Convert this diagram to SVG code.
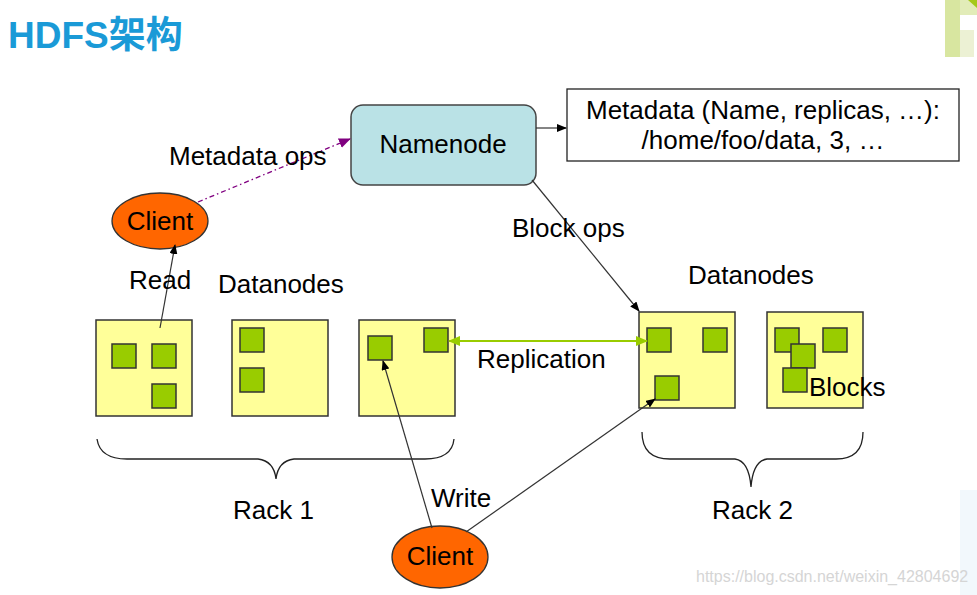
<svg xmlns="http://www.w3.org/2000/svg" width="977" height="595" viewBox="0 0 977 595">
<defs>
<style>
text{font-family:"Liberation Sans",Arial,"Noto Sans CJK SC",sans-serif;fill:#000;font-size:26px}
.title{font-weight:bold;font-size:37px;fill:#1a9ad7}
.box{fill:#ffff99;stroke:#333;stroke-width:1.5}
.blk{fill:#99cc00;stroke:#333;stroke-width:1.5}
.ln{stroke:#333;stroke-width:1.2;fill:none}
.brace{stroke:#222;stroke-width:1.3;fill:none}
.mid{text-anchor:middle}
</style>
<marker id="ab" markerWidth="10" markerHeight="8" refX="9" refY="4" orient="auto" markerUnits="userSpaceOnUse"><path d="M0,0 L10,4 L0,8 Z" fill="#000"/></marker>
<marker id="ap" markerWidth="12" markerHeight="10" refX="11" refY="5" orient="auto" markerUnits="userSpaceOnUse"><path d="M0,0 L12,5 L0,10 Z" fill="#800080"/></marker>
<marker id="ag" markerWidth="12" markerHeight="10" refX="11" refY="5" orient="auto-start-reverse" markerUnits="userSpaceOnUse"><path d="M0,0 L12,5 L0,10 Z" fill="#99cc00"/></marker>
</defs>
<rect width="977" height="595" fill="#fff"/>
<g id="decor">
<rect x="945" y="0" width="15" height="57" fill="#d8e6a0"/>
<rect x="960" y="0" width="17" height="15" fill="#e2ecb8"/>
<rect x="960" y="30" width="14" height="27" fill="#ecf1d4"/>
<path d="M968,0 L977,0 L977,8 Z" fill="#a5c81a"/>
<rect x="960" y="490" width="17" height="105" fill="#f2f8fc"/>
</g>
<text class="title" x="8" y="48">HDFS架构</text>
<g id="namenode">
<rect x="351" y="105" width="185" height="80" rx="12" fill="#bae2e6" stroke="#444" stroke-width="1.5"/>
<text class="mid" x="443" y="153">Namenode</text>
</g>
<g id="metadata">
<rect x="567" y="89" width="392" height="72" fill="#fff" stroke="#222" stroke-width="1.3"/>
<text class="mid" x="763" y="119">Metadata (Name, replicas, …):</text>
<text class="mid" x="763" y="149">/home/foo/data, 3, …</text>
</g>
<g id="client1">
<ellipse cx="160" cy="221" rx="48" ry="28" fill="#ff6600" stroke="#333" stroke-width="1.3"/>
<text class="mid" x="160" y="230">Client</text>
</g>
<g id="client2">
<ellipse cx="440" cy="557" rx="48" ry="31" fill="#ff6600" stroke="#333" stroke-width="1.3"/>
<text class="mid" x="440" y="565">Client</text>
</g>
<g id="rack1-dn1">
<rect class="box" x="96" y="320" width="96" height="96"/>
<rect class="blk" x="112" y="344" width="24" height="24"/>
<rect class="blk" x="152" y="344" width="24" height="24"/>
<rect class="blk" x="152" y="384" width="24" height="24"/>
</g>
<g id="rack1-dn2">
<rect class="box" x="232" y="320" width="96" height="96"/>
<rect class="blk" x="240" y="328" width="24" height="24"/>
<rect class="blk" x="240" y="368" width="24" height="24"/>
</g>
<g id="rack1-dn3">
<rect class="box" x="359" y="320" width="96" height="96"/>
<rect class="blk" x="368" y="336" width="24" height="24"/>
<rect class="blk" x="424" y="328" width="24" height="24"/>
</g>
<g id="rack2-dn1">
<rect class="box" x="639" y="312" width="96" height="96"/>
<rect class="blk" x="647" y="328" width="24" height="24"/>
<rect class="blk" x="703" y="328" width="24" height="24"/>
<rect class="blk" x="655" y="376" width="24" height="24"/>
</g>
<g id="rack2-dn2">
<rect class="box" x="767" y="312" width="96" height="96"/>
<rect class="blk" x="775" y="328" width="24" height="24"/>
<rect class="blk" x="823" y="328" width="24" height="24"/>
<rect class="blk" x="791" y="344" width="24" height="24"/>
<rect class="blk" x="783" y="368" width="24" height="24"/>
<text x="809" y="396">Blocks</text>
</g>
<g id="rack1">
<path class="brace" d="M97,439 Q100,459 127,459 L258,459 Q274,461 276,479 Q278,461 294,459 L425,459 Q452,459 454,439"/>
<text x="233" y="519">Rack 1</text>
</g>
<g id="rack2">
<path class="brace" d="M642,432 Q642,459 670,459 L735,459 Q749,461 751,487 Q753,461 767,459 L836,459 Q863,459 863,432"/>
<text x="712" y="519">Rack 2</text>
</g>
<g id="connectors">
<line x1="536" y1="128" x2="566" y2="128" class="ln" stroke="#000" marker-end="url(#ab)"/>
<line x1="198" y1="202" x2="350" y2="139" stroke="#800080" stroke-width="1.3" stroke-dasharray="5,3,1.5,3" marker-end="url(#ap)"/>
<line x1="160" y1="328" x2="175" y2="245" class="ln" marker-end="url(#ab)"/>
<line x1="532" y1="180" x2="639" y2="311" class="ln" marker-end="url(#ab)"/>
<line x1="449" y1="341" x2="647" y2="341" stroke="#99cc00" stroke-width="1.8" marker-start="url(#ag)" marker-end="url(#ag)"/>
<line x1="432" y1="528" x2="383" y2="361" class="ln" marker-end="url(#ab)"/>
<line x1="466" y1="532" x2="655" y2="399" class="ln" marker-end="url(#ab)"/>
</g>
<g id="labels">
<text x="169" y="165">Metadata ops</text>
<text x="129" y="289">Read</text>
<text x="218" y="293">Datanodes</text>
<text x="688" y="284">Datanodes</text>
<text x="512" y="237">Block ops</text>
<text x="477" y="368">Replication</text>
<text x="431" y="507">Write</text>
</g>
<text x="696" y="582" style="font-size:16px;fill:#d5d5d5">https://blog.csdn.net/weixin_42804692</text>
</svg>
